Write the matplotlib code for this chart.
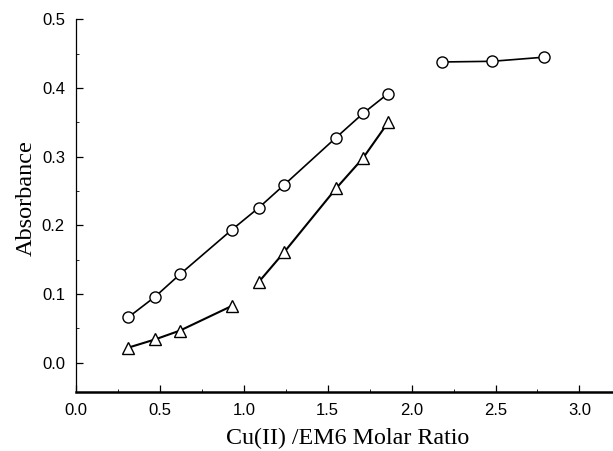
import matplotlib
matplotlib.use("Agg")
import matplotlib.pyplot as plt
from matplotlib.ticker import MultipleLocator, FormatStrFormatter

# Data (Cu(II)/EM6 molar ratio vs absorbance)
circle_x1 = [0.31, 0.47, 0.62, 0.93, 1.09, 1.24, 1.55, 1.71, 1.86]
circle_y1 = [0.066, 0.096, 0.129, 0.194, 0.226, 0.259, 0.328, 0.363, 0.392]
circle_x2 = [2.18, 2.48, 2.79]
circle_y2 = [0.438, 0.439, 0.445]
tri_x1 = [0.31, 0.47, 0.62, 0.93]
tri_y1 = [0.022, 0.034, 0.047, 0.083]
tri_x2 = [1.09, 1.24, 1.55, 1.71, 1.86]
tri_y2 = [0.118, 0.161, 0.254, 0.298, 0.350]

fig = plt.figure(figsize=(6.13, 4.51), dpi=100)
ax = fig.add_axes([0.124, 0.130, 0.876, 0.827])

mk_c = dict(color="black", lw=1.2, marker="o", markersize=8, markerfacecolor="white",
            markeredgecolor="black", markeredgewidth=1.0)
mk_t = dict(color="black", lw=1.5, marker="^", markersize=8.5, markerfacecolor="white",
            markeredgecolor="black", markeredgewidth=1.0)

ax.plot(circle_x1, circle_y1, **mk_c)
ax.plot(circle_x2, circle_y2, **mk_c)
ax.plot(tri_x1, tri_y1, **mk_t)
ax.plot(tri_x2, tri_y2, **mk_t)

ax.set_xlim(0, 3.2)
ax.set_ylim(-0.043, 0.5)

ax.spines["top"].set_visible(False)
ax.spines["right"].set_visible(False)
ax.spines["bottom"].set_linewidth(1.8)
ax.spines["left"].set_linewidth(0.9)

ax.xaxis.set_major_locator(MultipleLocator(0.5))
ax.xaxis.set_minor_locator(MultipleLocator(0.25))
ax.yaxis.set_major_locator(MultipleLocator(0.1))
ax.yaxis.set_minor_locator(MultipleLocator(0.05))
ax.xaxis.set_major_formatter(FormatStrFormatter("%.1f"))
ax.yaxis.set_major_formatter(FormatStrFormatter("%.1f"))

ax.tick_params(which="major", direction="in", length=5, width=0.9, pad=8,
               labelsize=12)
ax.tick_params(which="minor", direction="in", length=2.5, width=0.6)
for lab in ax.get_xticklabels() + ax.get_yticklabels():
    lab.set_fontfamily("Liberation Sans")

ax.set_xlabel("Cu(II) /EM6 Molar Ratio", fontfamily="Liberation Serif", fontsize=17.3)
ax.set_ylabel("Absorbance", fontfamily="Liberation Serif", fontsize=17.5)
ax.yaxis.set_label_coords(-0.074, 0.52)
ax.xaxis.set_label_coords(0.505, -0.095)

fig.savefig("out.png", dpi=100)
